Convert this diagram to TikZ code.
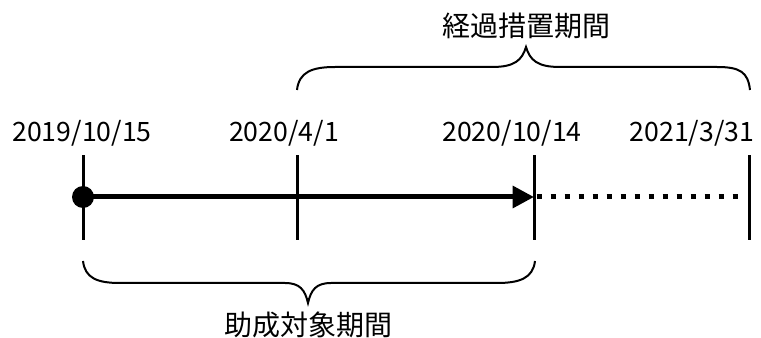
\documentclass[tikz,border=0pt]{standalone}
\usepackage{fontspec}
\setmainfont{Noto Sans CJK JP}
\usepackage{tikz}
\usetikzlibrary{arrows.meta,positioning}

\begin{document}
\begin{tikzpicture}[x=0.75pt, y=-0.75pt, every node/.style={font=\fontsize{20}{24}\selectfont, inner sep=0pt},
    tick/.style={line width=2.25pt},
    brace/.style={line width=1.5pt},
    period/.style={font=\fontsize{21}{25}\selectfont}]
    \useasboundingbox (0,0) rectangle (761,338);

    % Define points on the time line
    \coordinate (start) at (83,197);
    \coordinate (apr) at (297,197);
    \coordinate (oct) at (534,197);
    \coordinate (mar) at (749,197);

    % Vertical ticks
    \foreach \p in {start, apr, oct, mar}
        \draw[tick] ([yshift=-43*0.75pt]\p) -- ([yshift=42*0.75pt]\p);

    % Date labels
    \node (d1) at (82,133) {2019/10/15};
    \node (d2) at (284,133) {2020/4/1};
    \node (d3) at (512,133) {2020/10/14};
    \node (d4) at (692,133) {2021/3/31};

    % Main arrow and dotted extension
    \fill (start) circle (11);
    \draw[line width=3.75pt, -{Triangle[length=16pt, width=16pt]}] (start) -- (oct);
    \draw[line width=3.75pt, dash pattern=on 3.75pt off 6.75pt, dash phase=-2pt] (oct) -- ([xshift=-5*0.75pt]mar);

    % Upper brace
    \draw[brace] (297,90) .. controls (299,72) and (312,67) .. (335,67) -- (492,67)
        .. controls (515,67) and (522,60) .. (526,47)
        .. controls (530,60) and (537,67) .. (560,67) -- (717,67)
        .. controls (740,67) and (748,72) .. (750,90);
    \node[period] (late) at (526,26) {経過措置期間};

    % Lower brace
    \draw[brace] (83,261) .. controls (85,278) and (97,283) .. (120,283) -- (285,283)
        .. controls (300,283) and (305,290) .. (308,303)
        .. controls (311,290) and (316,283) .. (331,283) -- (497,283)
        .. controls (520,283) and (533,278) .. (535,261);
    \node[period] (grant) at (308,325) {助成対象期間};
\end{tikzpicture}
\end{document}
